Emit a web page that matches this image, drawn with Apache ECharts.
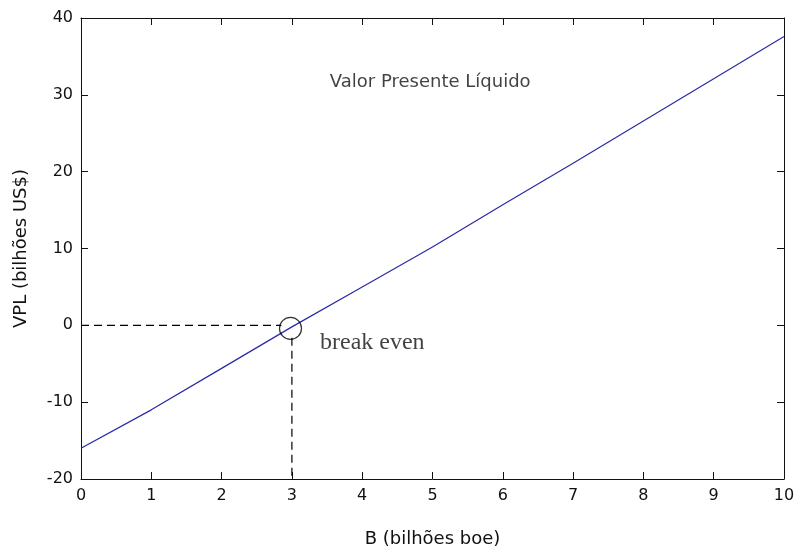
<!DOCTYPE html>
<html>
<head>
<meta charset="utf-8">
<script src="https://cdn.jsdelivr.net/npm/echarts@6/dist/echarts.min.js"></script>
<style>html,body{margin:0;padding:0;background:#fff;}#c{width:798px;height:553px;}</style>
</head>
<body>
<div id="c"></div>
<script>
const bValues = [0, 1, 2, 3, 4, 5, 6, 7, 8, 9, 10];
const vplValues = [-16.0, -11.0, -5.6, -0.2, 5.0, 10.2, 15.7, 21.1, 26.6, 32.1, 37.6];
const breakEven = [2.98, -0.4];
const hDash = [[0, 0], [2.85, 0]];
const vDash = [[3, -1.6], [3, -20]];
const titleText = 'Valor Presente Líquido';
const titlePos = [3.54, 31.6];
const beText = 'break even';
const bePos = [3.4, -2.2];
const xTicks = [0, 10, 1];
const yTicks = [-20, 40, 10];

const chart = echarts.init(document.getElementById('c'), null, {renderer: 'canvas'});
const axisLine = {show: true, onZero: false, lineStyle: {color: '#111', width: 1}};
const tick = {show: true, inside: true, length: 7, lineStyle: {color: '#111', width: 1}};
const FONT = 'DejaVu Sans, Verdana, sans-serif';
const lbl = {color: '#111', fontFamily: FONT, fontSize: 16};
const nameStyle = {color: '#111', fontFamily: FONT, fontSize: 18};
chart.setOption({
  animation: false,
  backgroundColor: '#fff',
  grid: {left: 81, top: 18, right: 14, bottom: 70, containLabel: false},
  xAxis: [
    {type: 'value', min: xTicks[0], max: xTicks[1], interval: xTicks[2], position: 'bottom',
     axisLine: axisLine, axisTick: tick, splitLine: {show: false},
     axisLabel: Object.assign({margin: 9}, lbl),
     name: 'B (bilhões boe)', nameLocation: 'middle', nameGap: 51, nameTextStyle: nameStyle},
    {type: 'value', min: xTicks[0], max: xTicks[1], interval: xTicks[2], position: 'top',
     axisLine: axisLine, axisTick: tick, splitLine: {show: false}, axisLabel: {show: false}}
  ],
  yAxis: [
    {type: 'value', min: yTicks[0], max: yTicks[1], interval: yTicks[2], position: 'left',
     axisLine: axisLine, axisTick: tick, splitLine: {show: false},
     axisLabel: Object.assign({margin: 8}, lbl),
     name: 'VPL (bilhões US$)', nameLocation: 'middle', nameGap: 51, nameTextStyle: nameStyle},
    {type: 'value', min: yTicks[0], max: yTicks[1], interval: yTicks[2], position: 'right',
     axisLine: axisLine, axisTick: tick, splitLine: {show: false}, axisLabel: {show: false}}
  ],
  series: [
    {type: 'line', data: bValues.map((b, i) => [b, vplValues[i]]), showSymbol: false,
     lineStyle: {color: '#2a2aa8', width: 1.2}, silent: true, z: 3},
    {type: 'line', data: hDash, showSymbol: false,
     lineStyle: {color: '#000', width: 1.2, type: [8, 5]}, silent: true},
    {type: 'line', data: vDash, showSymbol: false,
     lineStyle: {color: '#000', width: 1.2, type: [8, 5]}, silent: true},
    {type: 'scatter', data: [breakEven], symbol: 'circle', symbolSize: 22,
     itemStyle: {color: 'rgba(0,0,0,0)', borderColor: '#000', borderWidth: 1.2}, silent: true, z: 4},
    {type: 'scatter', data: [titlePos], symbolSize: 0, silent: true,
     label: {show: true, position: 'right', distance: 0, formatter: titleText,
             color: '#111', fontFamily: FONT, fontSize: 18}},
    {type: 'scatter', data: [bePos], symbolSize: 0, silent: true,
     label: {show: true, position: 'right', distance: 0, formatter: beText,
             color: '#111', fontFamily: 'Liberation Serif, Times New Roman, serif', fontSize: 24}}
  ]
});
</script>
</body>
</html>
